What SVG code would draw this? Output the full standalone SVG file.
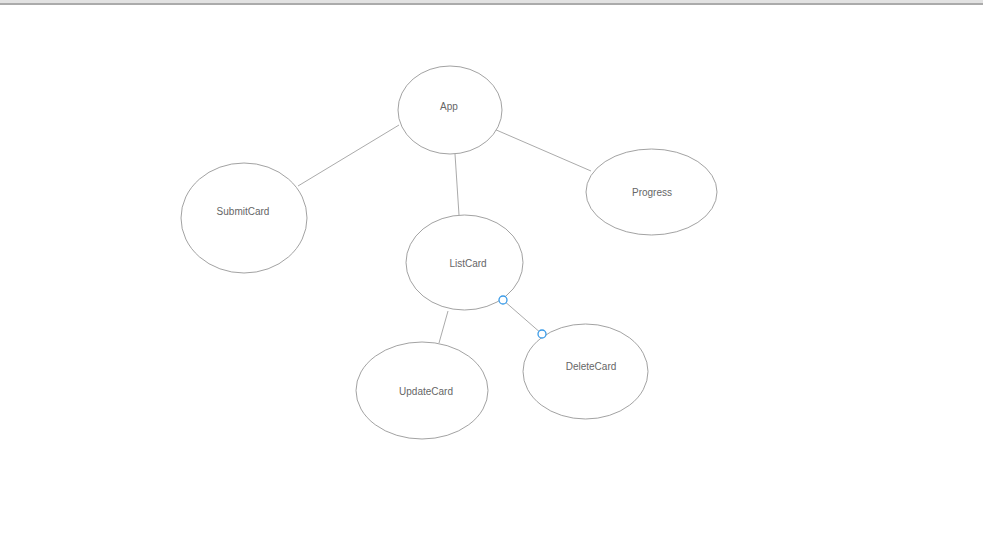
<svg xmlns="http://www.w3.org/2000/svg" width="983" height="556" viewBox="0 0 983 556">
<style>
.n ellipse{fill:#fff;stroke:#8a8a8a;stroke-width:0.8}
.n text{font-family:"Liberation Sans",Arial,sans-serif;font-size:10px;fill:#666;text-anchor:middle;dominant-baseline:central}
.c line{stroke:#a0a0a0;stroke-width:0.9}
.h{fill:#fff;stroke:#3a9be8;stroke-width:1.3}
</style>
<rect x="0" y="0" width="983" height="556" fill="#fff"/>
<rect x="0" y="0" width="983" height="3" fill="#e2e2e2"/>
<rect x="0" y="3" width="983" height="2" fill="#ababab"/>
<g class="c" id="connectors">
<line x1="399" y1="125" x2="298" y2="186"/>
<line x1="455" y1="154" x2="459" y2="215"/>
<line x1="494" y1="129" x2="591" y2="171"/>
<line x1="448" y1="311" x2="439" y2="343"/>
<line x1="503" y1="300" x2="542" y2="334"/>
</g>
<g class="n" id="app"><ellipse cx="450" cy="110" rx="52" ry="44"/><text x="449" y="106.5">App</text></g>
<g class="n" id="submitcard"><ellipse cx="244" cy="218" rx="63" ry="55"/><text x="243" y="211.5">SubmitCard</text></g>
<g class="n" id="progress"><ellipse cx="651.5" cy="192" rx="65.5" ry="43"/><text x="652" y="192.5">Progress</text></g>
<g class="n" id="listcard"><ellipse cx="464.5" cy="262.5" rx="58.5" ry="47.5"/><text x="468" y="263.5">ListCard</text></g>
<g class="n" id="updatecard"><ellipse cx="422" cy="390.5" rx="66" ry="48.5"/><text x="426" y="391.5">UpdateCard</text></g>
<g class="n" id="deletecard"><ellipse cx="585.5" cy="371.5" rx="62.5" ry="47.5"/><text x="591" y="366.5">DeleteCard</text></g>
<g id="handles">
<circle class="h" cx="503" cy="300" r="4"/>
<circle class="h" cx="542" cy="334" r="4"/>
</g>
</svg>
